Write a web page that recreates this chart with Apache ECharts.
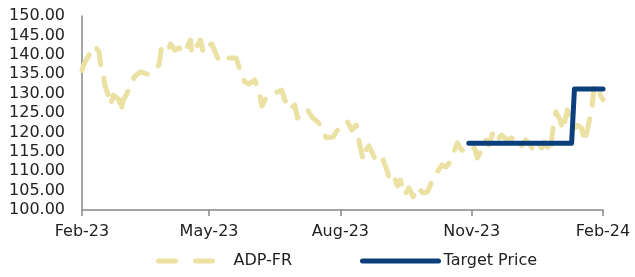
<!DOCTYPE html>
<html>
<head>
<meta charset="utf-8">
<script src="https://cdn.jsdelivr.net/npm/echarts@6/dist/echarts.min.js"></script>
<style>
  html, body { margin: 0; padding: 0; background: #fff; }
  #chart { width: 635px; height: 277px; }
</style>
</head>
<body>
<div id="chart"></div>
<script>
const priceDates = [
    '2023-02-01', '2023-02-03', '2023-02-06', '2023-02-10', '2023-02-13', '2023-02-14', '2023-02-16', '2023-02-17',
    '2023-02-20', '2023-02-21', '2023-02-23', '2023-02-27', '2023-02-28', '2023-03-02', '2023-03-04', '2023-03-08',
    '2023-03-10', '2023-03-14', '2023-03-19', '2023-03-23', '2023-03-27', '2023-03-29', '2023-04-03', '2023-04-04',
    '2023-04-07', '2023-04-10', '2023-04-12', '2023-04-14', '2023-04-18', '2023-04-19', '2023-04-21', '2023-04-25',
    '2023-04-27', '2023-04-30', '2023-05-03', '2023-05-07', '2023-05-10', '2023-05-15', '2023-05-20', '2023-05-22',
    '2023-05-26', '2023-05-29', '2023-06-02', '2023-06-05', '2023-06-07', '2023-06-10', '2023-06-13', '2023-06-18',
    '2023-06-21', '2023-06-23', '2023-06-27', '2023-06-30', '2023-07-02', '2023-07-05', '2023-07-09', '2023-07-12',
    '2023-07-16', '2023-07-18', '2023-07-22', '2023-07-27', '2023-07-29', '2023-08-03', '2023-08-06', '2023-08-09',
    '2023-08-12', '2023-08-15', '2023-08-17', '2023-08-19', '2023-08-21', '2023-08-24', '2023-08-27', '2023-08-31',
    '2023-09-03', '2023-09-05', '2023-09-08', '2023-09-10', '2023-09-12', '2023-09-15', '2023-09-18', '2023-09-21',
    '2023-09-24', '2023-09-28', '2023-10-01', '2023-10-03', '2023-10-05', '2023-10-08', '2023-10-11', '2023-10-14',
    '2023-10-17', '2023-10-20', '2023-10-22', '2023-10-24', '2023-10-27', '2023-10-30', '2023-11-03', '2023-11-05',
    '2023-11-08', '2023-11-11', '2023-11-13', '2023-11-16', '2023-11-19', '2023-11-22', '2023-11-26', '2023-11-29',
    '2023-12-03', '2023-12-05', '2023-12-09', '2023-12-12', '2023-12-14', '2023-12-17', '2023-12-20', '2023-12-22',
    '2023-12-26', '2023-12-28', '2023-12-30', '2024-01-02', '2024-01-04', '2024-01-07', '2024-01-09', '2024-01-12',
    '2024-01-14', '2024-01-17', '2024-01-19', '2024-01-21', '2024-01-24', '2024-01-26', '2024-01-29', '2024-02-01'
];
const priceValues = [
    136.0, 138.1, 140.0, 142.3, 140.7, 137.4, 134.8, 132.2,
    128.9, 127.1, 129.6, 128.4, 125.3, 128.4, 129.6, 133.0,
    134.5, 135.6, 135.0, 136.1, 137.4, 142.8, 141.8, 142.8,
    141.2, 141.8, 140.5, 140.7, 143.8, 140.2, 141.2, 143.8,
    140.5, 142.3, 142.8, 139.2, 138.1, 139.2, 139.2, 136.9,
    133.0, 132.5, 133.5, 130.9, 126.8, 128.9, 129.9, 130.4,
    130.9, 128.4, 125.8, 127.1, 123.7, 125.3, 125.8, 124.0,
    122.7, 121.9, 118.6, 118.8, 120.1, 122.4, 122.7, 120.6,
    121.9, 116.0, 112.9, 115.5, 116.5, 114.2, 111.9, 112.9,
    109.8, 107.2, 108.2, 106.2, 107.7, 103.9, 105.7, 103.4,
    105.9, 104.4, 104.6, 106.4, 108.2, 109.8, 111.6, 111.1,
    112.4, 115.5, 117.3, 116.0, 114.7, 115.5, 116.0, 113.4,
    115.5, 118.0, 116.8, 120.1, 118.0, 119.3, 118.0, 118.6,
    117.3, 116.2, 118.0, 116.8, 115.5, 117.5, 116.0, 117.5,
    114.7, 121.1, 125.3, 123.2, 120.6, 125.8, 123.7, 121.1,
    121.9, 121.1, 117.5, 120.6, 125.8, 132.2, 130.4, 128.4
];

const targetDates = ['2023-10-30', '2024-01-10', '2024-01-12', '2024-02-01'];
const targetValues = [117.2, 117.2, 131.2, 131.2];

const seriesNames = ['ADP-FR', 'Target Price'];
const monthNames = ['Jan', 'Feb', 'Mar', 'Apr', 'May', 'Jun', 'Jul', 'Aug', 'Sep', 'Oct', 'Nov', 'Dec'];
const xTickDates = ['2023-02-01', '2023-05-01', '2023-08-01', '2023-11-01', '2024-02-01'];

function toTime(s) {
    const p = s.split('-');
    return new Date(+p[0], +p[1] - 1, +p[2]).getTime();
}

const xTicks = xTickDates.map(toTime);
const fontFamily = 'DejaVu Sans';
const textColor = '#222';
const axisColor = '#888';
const priceColor = '#EBE1A3';
const targetColor = '#0B3F7C';

const chart = echarts.init(document.getElementById('chart'));

chart.setOption({
    animation: false,
    grid: { left: 82, right: 32, top: 16, bottom: 67 },
    legend: [
        {
            bottom: 3,
            left: 151,
            itemWidth: 54,
            itemHeight: 12,
            itemStyle: { opacity: 0 },
            lineStyle: { type: [17, 20], cap: 'round', width: 5 },
            textStyle: { fontFamily: fontFamily, fontSize: 16, color: textColor, padding: [0, 0, 0, 16] },
            data: [seriesNames[0]]
        },
        {
            bottom: 3,
            left: 355,
            itemWidth: 76,
            itemHeight: 12,
            itemStyle: { opacity: 0 },
            lineStyle: { width: 5 },
            textStyle: { fontFamily: fontFamily, fontSize: 16, color: textColor },
            data: [seriesNames[1]]
        }
    ],
    xAxis: {
        type: 'value',
        min: xTicks[0],
        max: xTicks[xTicks.length - 1],
        axisLine: { lineStyle: { color: axisColor, width: 1.5 } },
        axisTick: { show: true, length: 6, customValues: xTicks, lineStyle: { color: axisColor, width: 1.5 } },
        splitLine: { show: false },
        axisLabel: {
            customValues: xTicks,
            margin: 14,
            fontFamily: fontFamily,
            fontSize: 16,
            color: textColor,
            formatter: function (value) {
                const d = new Date(value);
                return monthNames[d.getMonth()] + '-' + String(d.getFullYear()).slice(2);
            }
        }
    },
    yAxis: {
        type: 'value',
        min: 100,
        max: 150,
        interval: 5,
        axisLine: { show: true, lineStyle: { color: axisColor, width: 1.5 } },
        axisTick: { show: false },
        splitLine: { show: false },
        axisLabel: {
            margin: 17,
            fontFamily: fontFamily,
            fontSize: 16,
            color: textColor,
            formatter: function (value) {
                return value.toFixed(2);
            }
        }
    },
    series: [
        {
            name: seriesNames[0],
            type: 'line',
            showSymbol: false,
            symbol: 'none',
            data: priceDates.map((d, i) => [toTime(d), priceValues[i]]),
            lineStyle: { color: priceColor, width: 5, type: [17, 14], cap: 'round', join: 'round' },
            itemStyle: { color: priceColor }
        },
        {
            name: seriesNames[1],
            type: 'line',
            showSymbol: false,
            symbol: 'none',
            data: targetDates.map((d, i) => [toTime(d), targetValues[i]]),
            lineStyle: { color: targetColor, width: 5, cap: 'round', join: 'round' },
            itemStyle: { color: targetColor }
        }
    ]
});
</script>
</body>
</html>
